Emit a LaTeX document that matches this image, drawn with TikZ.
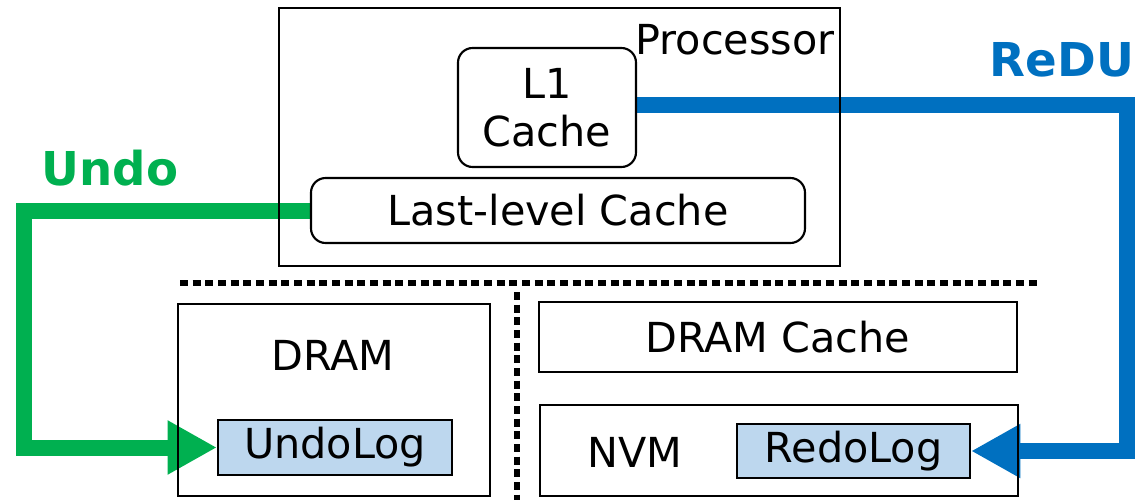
\documentclass[tikz,border=0pt]{standalone}
\usepackage{fontspec}
\setmainfont{DejaVu Sans}
\usetikzlibrary{arrows.meta,backgrounds}
\definecolor{undogreen}{HTML}{00B050}
\definecolor{redublue}{HTML}{0070C0}
\definecolor{logfill}{HTML}{BDD7EE}

\begin{document}
\begin{tikzpicture}[x=0.75pt,y=-0.75pt,
    box/.style={draw,line width=1.6pt,inner sep=0pt},
    roundbox/.style={box,rounded corners=11pt,fill=white},
    logbox/.style={box,fill=logfill},
    sepline/.style={line width=4pt,dash pattern=on 6pt off 3.5pt},
    logpath/.style={line width=12pt,-{Triangle[length=37pt,width=38pt]}},
    txt/.style={font=\fontsize{31}{36}\selectfont},
    biglabel/.style={font=\fontsize{35}{40}\selectfont\bfseries}]
    \useasboundingbox (0,0) rectangle (1136,500);
    % processor side
    \node[box,minimum width=420.75pt,minimum height=193.5pt] (proc) at (559.5,137) {};
    \node[txt] (proctext) at (735,40) {Processor};
    \node[roundbox,minimum width=133.5pt,minimum height=89.25pt,txt,align=center] (l1) at (547,107.5) {L1\\Cache};
    \node[roundbox,minimum width=370.5pt,minimum height=48.75pt,txt] (llc) at (558,210.5) {Last-level Cache};
    % separators
    \draw[sepline] (180,283) -- (1040,283);
    \draw[sepline] (517,292) -- (517,500);
    % memory side
    \node[box,minimum width=234pt,minimum height=144pt] (dram) at (334,400) {};
    \node[txt] (dramtext) at (333,355) {DRAM};
    \node[logbox,minimum width=175.5pt,minimum height=41.25pt,txt] (undolog) at (335,447.5) {UndoLog};
    \node[box,minimum width=358.5pt,minimum height=52.5pt,txt] (dramcache) at (778,337) {DRAM Cache};
    \node[box,minimum width=358.5pt,minimum height=68.25pt] (nvm) at (779,450.5) {};
    \node[txt] (nvmtext) at (635,452) {NVM};
    \node[logbox,minimum width=174.75pt,minimum height=40.5pt,txt] (redolog) at (853.5,451) {RedoLog};
    % log paths, under the boxes
    \coordinate (gturn) at (24,250);
    \coordinate (bturn) at (1127,250);
    \begin{scope}[on background layer]
    \draw[logpath,undogreen] (llc.west) -| (gturn) |- (undolog.west);
    \draw[logpath,redublue] ([yshift=2pt]l1.east) -| (bturn) |- (redolog.east);
    \end{scope}
    % labels
    \node[biglabel,text=undogreen] (undolabel) at (110,168) {Undo};
    \node[biglabel,text=redublue] (redulabel) at (1062,60) {ReDU};
\end{tikzpicture}
\end{document}
